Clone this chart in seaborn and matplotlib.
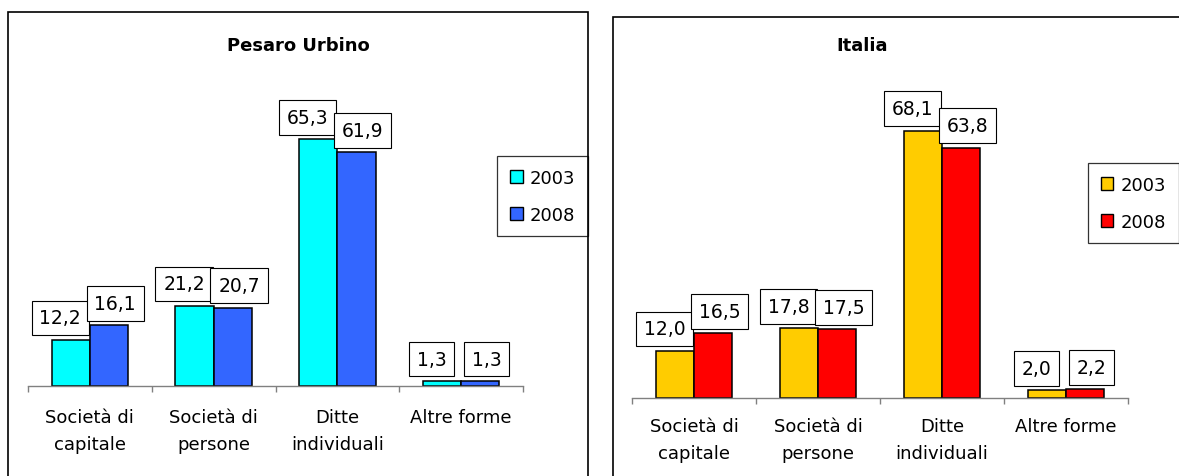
import matplotlib
matplotlib.use("Agg")
import matplotlib.pyplot as plt
from matplotlib.patches import Rectangle, Patch
import seaborn as sns
import pandas as pd

# --- data -------------------------------------------------------------
categorie = ["Società di\ncapitale", "Società di\npersone", "Ditte\nindividuali", "Altre forme"]
anni = ["2003", "2008"]
pesaro_2003 = [12.2, 21.2, 65.3, 1.3]
pesaro_2008 = [16.1, 20.7, 61.9, 1.3]
italia_2003 = [12.0, 17.8, 68.1, 2.0]
italia_2008 = [16.5, 17.5, 63.8, 2.2]
titoli = ["Pesaro Urbino", "Italia"]
colori_pesaro = ["#00FFFF", "#3366FF"]
colori_italia = ["#FFCC00", "#FF0000"]

W, H = 1179, 477
DPI = 100

sns.set_theme(style="white")
plt.rcParams["font.family"] = ["DejaVu Sans"]
plt.rcParams["text.color"] = "black"
plt.rcParams["xtick.color"] = "black"

fig = plt.figure(figsize=(W / DPI, H / DPI), dpi=DPI)
fig.patch.set_facecolor("white")


def px_rect(x0, y_top, x1, y_base):
    """Axes rectangle from pixel coordinates (origin top-left)."""
    return [x0 / W, 1 - y_base / H, (x1 - x0) / W, (y_base - y_top) / H]


def frame(x0, y_top, x1):
    fig.add_artist(Rectangle((x0 / W, -0.05), (x1 - x0) / W, 1.05 - y_top / H,
                             transform=fig.transFigure, fill=False,
                             edgecolor="#000000", linewidth=1.2))


def pannello(rect, v2003, v2008, colori, titolo, title_xy, leg_xy, leg_loc, pad):
    ax = fig.add_axes(rect)
    df = pd.DataFrame({
        "categoria": categorie * 2,
        "anno": [anni[0]] * 4 + [anni[1]] * 4,
        "valore": list(v2003) + list(v2008),
    })
    sns.barplot(data=df, x="categoria", y="valore", hue="anno",
                palette=colori, saturation=1, width=0.62, gap=0,
                edgecolor="black", linewidth=1.1, ax=ax, legend=False)
    ax.set_xlim(-0.5, 3.5)
    ax.set_ylim(0, 80)
    ax.set_facecolor("none")
    ax.set_xlabel("")
    ax.set_ylabel("")
    ax.set_yticks([])
    for s in ("left", "right", "top"):
        ax.spines[s].set_visible(False)
    ax.spines["bottom"].set_color("#808080")
    ax.spines["bottom"].set_linewidth(1.0)
    ax.set_xticks(range(4))
    ax.set_xticklabels(categorie, fontsize=13, linespacing=1.6, color="black")
    ax.tick_params(axis="x", which="major", length=0, pad=pad)
    ax.set_xticks([i - 0.5 for i in range(5)], minor=True)
    ax.tick_params(axis="x", which="minor", length=4, width=1.0,
                   color="#808080", direction="out", bottom=True)

    # value labels in boxes above each bar
    offsets = [-7.5, 4.5]
    for cont, vals, dx in zip(ax.containers, (v2003, v2008), offsets):
        for bar, v in zip(cont, vals):
            ax.annotate(f"{v:.1f}".replace(".", ","),
                        xy=(bar.get_x() + bar.get_width() / 2, v),
                        xytext=(dx, 9.0), textcoords="offset points",
                        ha="center", va="bottom", fontsize=13.5,
                        color="black",
                        bbox=dict(boxstyle="square,pad=0.42", fc="white",
                                  ec="black", lw=0.8))

    fig.text(title_xy[0] / W, 1 - title_xy[1] / H, titolo, ha="center",
             va="center", fontsize=13, fontweight="bold", color="black")

    handles = [Patch(facecolor=c, edgecolor="black", linewidth=1.0) for c in colori]
    leg = ax.legend(handles, anni, loc=leg_loc,
                    bbox_to_anchor=(leg_xy[0] / W, 1 - leg_xy[1] / H),
                    bbox_transform=fig.transFigure, fontsize=13,
                    frameon=True, fancybox=False, shadow=False,
                    edgecolor="black", handlelength=0.7, handleheight=0.7,
                    handletextpad=0.4, labelspacing=1.05, borderpad=0.7,
                    borderaxespad=0)
    leg.get_frame().set_linewidth(0.9)
    for t in leg.get_texts():
        t.set_color("black")
    return ax


frame(8, 13, 588)
frame(613, 18, 1250)

pannello(px_rect(28, 85, 523, 387), pesaro_2003, pesaro_2008, colori_pesaro,
         titoli[0], (298, 46), (588, 157), "upper right", 16)
pannello(px_rect(632, 85, 1128, 399), italia_2003, italia_2008, colori_italia,
         titoli[1], (862, 46), (1088, 164), "upper left", 14)

fig.savefig("out.png", dpi=DPI, facecolor="white")
